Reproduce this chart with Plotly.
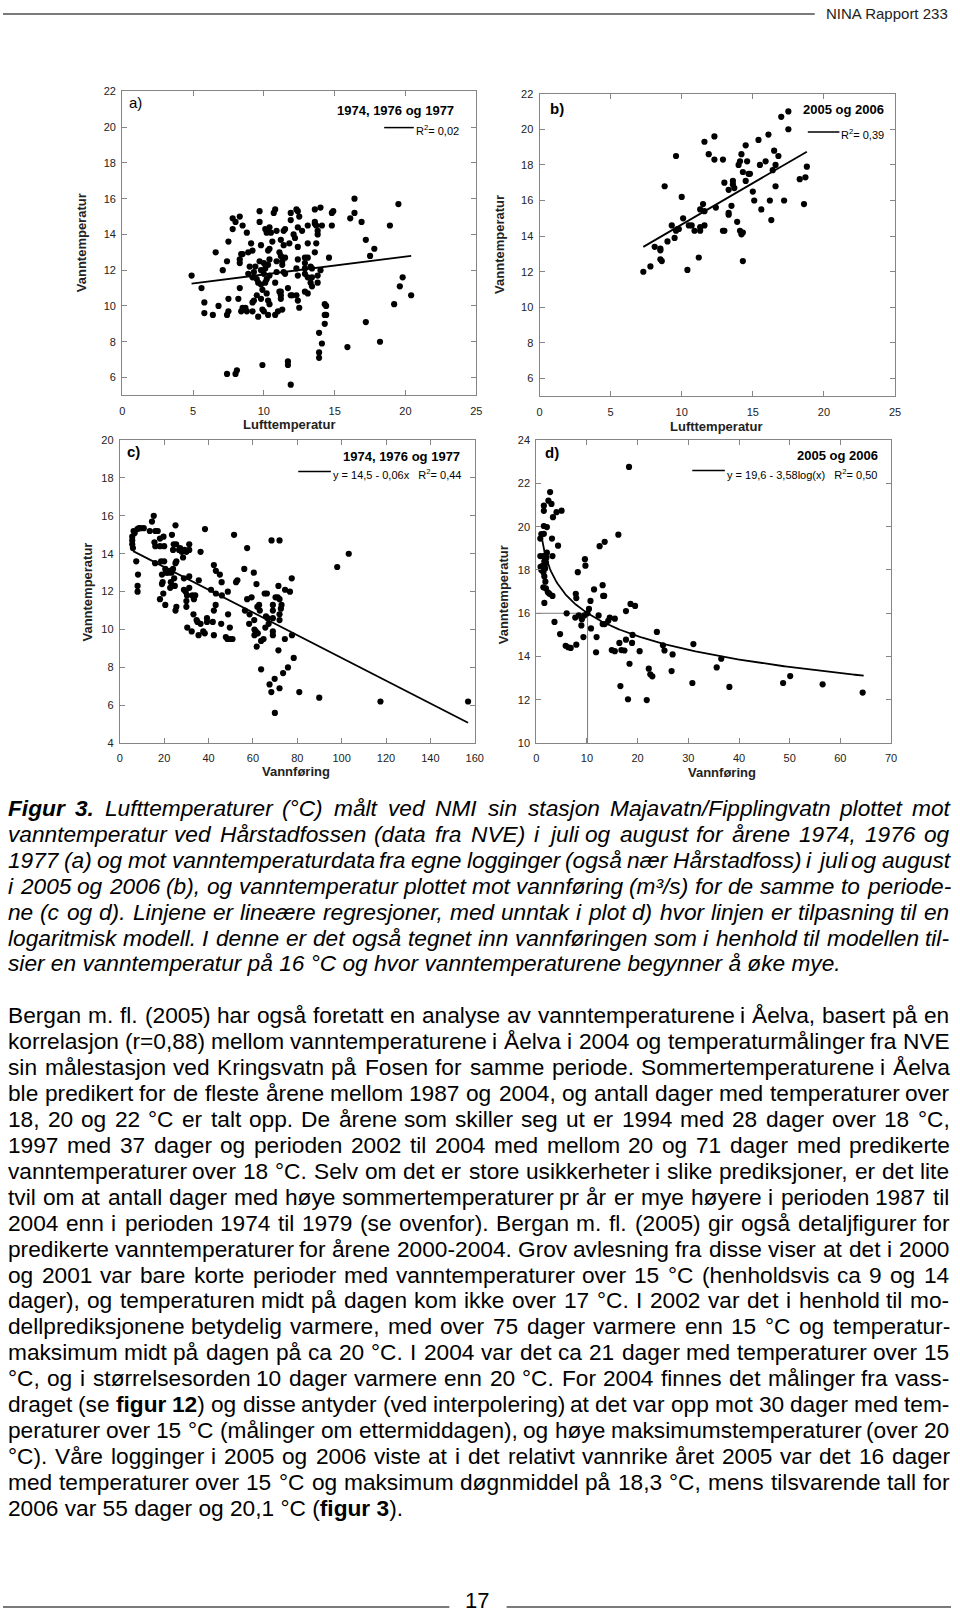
import numpy as np
import plotly.graph_objects as go

W, H = 960, 1618
FONT = "Liberation Sans, Arial, Helvetica, sans-serif"
GRAY = "#858585"

def X(p):
    return p / W

def Y(p):
    return 1 - p / H

# ---------------- data ----------------
# panel a: 1974, 1976, 1977  (Lufttemperatur vs Vanntemperatur)
a_luft = [19.5,16.4,16.1,16.4,16.9,18.9,17.2,17.8,17.5,14.6,
          19.8,19.6,20.4,19.2,17.2,18.2,15.9,11.9,11.7,11.7,
          9.9,7.4,8.0,8.1,13.9,14.1,13.9,13.9,14.3,14.3,
          14.4,14.3,14.4,4.9,5.6,5.8,5.8,6.4,6.8,6.6,
          7.1,7.4,7.5,7.5,7.5,7.4,7.8,8.0,7.8,8.3,
          8.5,8.3,8.3,8.4,8.5,8.3,8.2,8.4,8.5,8.7,
          8.8,8.8,8.9,9.0,8.9,9.1,9.2,9.2,9.3,9.4,
          9.2,9.2,9.3,9.6,9.5,9.7,9.7,9.7,9.8,9.8,
          9.5,9.6,9.8,9.8,9.9,9.9,10.0,10.0,10.0,10.1,
          10.1,10.2,10.2,10.1,10.2,10.3,10.3,10.2,10.4,10.4,
          10.4,10.4,10.3,10.4,10.3,10.5,10.6,10.7,10.8,10.9,
          11.2,11.1,11.2,10.9,10.9,10.8,10.8,11.0,11.1,11.2,
          11.2,11.3,11.3,11.4,11.4,11.5,11.4,11.5,11.5,11.3,
          11.2,11.7,11.8,11.9,11.9,11.9,12.0,12.1,12.2,12.3,
          12.3,12.4,12.5,12.4,12.4,12.4,12.3,12.4,12.4,12.5,
          12.7,12.9,12.9,13.1,12.9,13.1,12.9,13.1,13.1,13.1,
          12.9,13.3,13.4,13.4,13.6,13.6,13.6,14.0,13.7,13.8,
          13.8,13.7,13.6,13.8,13.8,14.0,14.1,14.8,14.9,14.8,13.4,13.3]
a_vann = [15.7,16.0,14.9,15.2,14.7,14.5,13.7,13.2,12.8,12.7,
          11.6,11.1,10.6,10.1,9.1,8.0,7.7,5.6,6.9,6.7,
          6.7,6.2,6.2,6.4,8.5,7.9,7.4,7.1,9.0,9.5,
          9.5,10.1,10.0,11.7,11.0,10.2,9.6,9.5,10.0,13.0,
          12.0,12.5,13.6,10.4,9.7,9.5,14.9,14.7,14.3,15.0,
          14.5,12.6,12.4,12.9,12.9,11.0,10.4,9.7,9.9,9.9,
          9.7,14.1,13.0,12.2,11.8,13.5,13.1,11.6,11.9,12.2,
          9.7,10.2,10.3,9.4,10.6,15.3,14.7,12.5,13.4,12.0,
          11.5,11.3,11.2,10.4,10.9,9.8,9.7,12.4,11.8,12.1,
          11.3,10.7,11.5,14.3,14.1,13.1,12.3,14.2,14.4,13.2,
          12.6,11.7,10.3,10.1,9.5,14.1,13.6,15.2,15.4,14.2,
          13.7,13.0,12.8,12.5,11.9,11.3,9.5,9.7,10.8,10.8,
          10.4,12.5,12.3,11.9,14.2,14.3,13.4,11.8,12.7,9.8,
          10.6,11.0,13.5,15.2,14.8,10.6,10.6,14.0,13.8,10.6,
          15.4,15.3,15.0,14.4,13.3,12.6,12.1,11.7,10.3,9.9,
          14.2,12.1,12.7,12.7,11.8,11.6,10.8,10.7,14.5,13.5,
          12.4,11.3,11.6,11.1,14.7,14.6,15.4,15.5,14.5,14.2,
          14.0,13.5,13.0,11.3,11.7,12.0,14.5,15.2,15.3,14.5,12.1,12.2]
a_fit = [10.76, 0.10]          # intercept, slope
a_fit_x = [4.9, 20.4]

# panel b: 2005 og 2006
b_luft = [7.3,7.8,8.1,8.5,8.5,8.5,8.6,8.8,9.0,9.3,
          9.5,9.6,9.6,9.7,9.8,10.0,10.1,10.4,10.5,10.7,
          10.9,11.2,11.3,11.3,11.3,11.5,11.6,11.6,11.6,11.9,
          12.3,12.3,12.4,12.9,12.9,13.0,13.0,13.3,13.3,13.3,
          13.5,13.6,13.6,13.7,13.9,14.0,14.1,14.1,14.2,14.2,
          14.3,14.3,14.3,14.5,14.5,14.6,14.7,14.8,15.0,15.1,
          15.4,15.5,15.6,15.9,16.1,16.2,16.3,16.4,16.5,16.6,
          16.6,16.8,17.0,17.2,17.5,17.5,18.3,18.6,18.7,18.8]
b_vann = [12.0,12.3,13.4,13.3,13.2,12.7,12.6,16.8,13.7,14.6,
          13.9,18.5,14.3,14.4,14.4,16.2,15.0,12.1,14.6,14.6,
          14.3,12.8,15.5,14.3,14.5,15.8,14.6,15.4,19.3,18.6,
          19.6,18.3,15.6,18.3,14.3,14.3,17.0,15.3,15.2,16.6,
          15.7,17.1,16.9,16.7,14.8,18.0,18.2,14.3,18.6,14.1,
          14.2,17.6,12.6,17.1,19.1,18.2,17.5,17.5,16.5,16.0,
          19.4,18.0,15.5,18.2,19.7,16.0,14.9,17.7,18.8,16.8,
          18.0,18.5,20.7,16.0,21.0,20.0,17.2,15.8,17.3,17.9]
b_fit = [10.0, 0.465]
b_fit_x = [7.3, 18.8]

# panel c: Vannføring vs Vanntemperatur 1974-77
c_qv = [5.6,5.6,5.6,5.9,6.2,6.7,7.9,8.6,9.4,10.8,
        7.4,8.2,8.0,8.0,13.5,14.5,15.3,16.0,17.1,15.6,
        16.0,15.9,18.1,18.1,19.7,20.0,18.6,19.0,19.0,19.3,
        18.1,19.6,20.5,20.0,20.5,20.9,21.8,22.4,22.7,23.3,
        23.0,24.0,23.5,24.3,24.0,24.5,24.8,25.1,25.1,25.5,
        25.1,25.5,25.4,26.7,27.2,27.9,28.5,29.2,30.0,28.9,
        28.9,29.7,30.0,30.3,30.0,31.3,31.3,31.3,31.3,30.4,
        32.4,32.7,33.4,34.0,33.2,34.6,35.0,35.5,35.6,36.4,
        36.4,37.6,38.3,38.4,39.3,39.3,41.1,41.9,42.4,42.4,
        43.3,42.4,43.2,43.3,45.1,45.9,45.7,46.0,47.8,48.5,
        48.7,48.8,49.6,49.9,50.8,51.5,52.4,53.0,56.1,56.4,
        57.4,57.4,58.3,58.5,59.4,60.4,60.6,60.7,60.7,61.6,
        61.3,62.2,61.7,62.0,62.8,63.1,63.7,63.7,64.8,65.6,
        65.3,66.3,65.9,66.6,67.1,67.5,68.3,68.4,69.0,69.0,
        69.0,69.0,69.0,69.8,69.9,70.2,71.2,71.5,71.5,72.0,
        72.0,72.0,72.0,72.0,72.9,72.6,73.6,74.4,74.5,75.8,
        76.7,77.5,77.6,78.4,80.9,89.9,98.0,103.2,117.5,157.0]
c_vann = [14.5,14.7,14.9,14.3,15.2,15.1,15.3,15.35,15.35,15.35,
          13.6,12.9,12.3,12.0,15.2,15.7,16.0,15.2,15.2,14.6,
          14.4,13.5,14.8,14.4,14.9,14.4,13.6,12.9,12.4,12.5,
          11.6,11.9,11.3,13.6,13.2,13.0,13.0,13.1,12.2,13.0,
          12.5,13.2,15.0,14.5,14.2,12.7,12.3,15.5,13.5,13.6,
          11.0,11.2,14.5,14.2,14.3,14.1,13.8,14.2,14.1,12.7,
          12.1,12.0,11.5,11.8,11.2,14.5,14.2,12.8,12.2,10.1,
          9.9,11.8,11.6,11.8,10.8,10.5,10.4,9.7,12.6,14.1,
          10.3,9.9,9.8,15.3,10.6,10.4,12.1,10.4,9.7,13.4,
          13.1,11.0,11.3,11.9,12.9,12.5,10.3,11.8,9.6,9.5,
          12.0,10.8,10.1,9.5,9.5,15.0,12.5,12.6,13.2,11.0,
          14.3,11.6,10.3,10.8,11.7,13.0,10.5,10.0,9.7,12.4,
          9.9,9.8,9.1,11.2,11.3,11.0,7.9,9.4,9.5,10.1,
          11.9,11.9,10.7,10.6,10.3,7.1,6.7,14.7,11.3,11.0,
          10.6,9.9,9.7,7.4,5.6,11.7,11.7,12.3,8.9,6.9,
          14.7,11.6,10.8,10.5,11.3,11.1,7.7,9.5,12.1,8.0,
          12.0,12.7,9.7,8.5,6.7,6.4,13.3,14.0,6.2,6.2]
c_fit = [14.5, -0.06]
c_fit_x = [6.0, 157.0]

# panel d: Vannføring vs Vanntemperatur 2005-06
d_qv = [18.3,2.73,2.4,3.0,1.5,5.0,4.0,1.5,3.3,1.5,
        2.1,1.5,1.0,0.8,3.1,4.3,16.2,12.5,13.5,0.8,
        1.4,2.1,3.2,2.0,1.6,0.85,1.3,1.7,1.9,1.0,
        1.4,1.75,1.6,1.8,1.4,1.9,2.3,2.6,1.6,3.2,
        9.6,9.7,8.2,7.8,7.9,3.6,6.0,4.7,5.8,6.3,
        6.8,7.9,7.7,8.4,9.0,8.9,9.3,9.5,10.1,10.4,
        10.7,10.8,11.4,11.9,11.8,12.3,13.1,13.2,13.4,13.1,
        13.5,14.2,14.5,15.5,14.9,15.5,16.4,16.6,16.8,17.4,
        17.7,17.7,18.1,18.4,18.6,18.9,19.0,19.5,20.4,21.8,
        22.2,22.5,22.9,23.8,25.0,25.3,26.7,26.9,30.8,31.0,
        35.6,36.5,38.1,48.7,50.1,56.5,64.4]
d_vann = [22.76,21.6,21.2,21.05,20.97,20.74,20.67,20.73,20.44,20.03,
          19.98,19.67,19.66,19.45,19.45,19.12,19.63,19.1,19.3,18.64,
          18.64,18.8,18.64,18.57,18.4,18.15,18.2,18.25,18.35,18.0,
          17.9,18.07,17.7,17.46,17.2,17.15,16.97,16.9,16.48,16.8,
          18.5,18.2,17.9,16.9,16.7,15.6,16.0,15.04,14.5,14.43,
          14.4,14.55,15.8,15.9,15.73,15.44,14.9,15.9,16.0,16.2,
          16.57,15.3,17.1,14.9,14.2,15.9,17.3,16.8,16.8,15.5,
          15.5,15.65,15.8,15.75,14.3,14.25,14.63,12.64,14.3,14.28,
          14.78,16.1,12.03,13.67,16.43,14.63,15.0,16.34,14.25,11.99,
          13.44,13.18,13.09,15.14,14.52,14.28,13.33,14.1,12.78,14.58,
          13.5,13.9,12.6,12.78,13.1,12.72,12.34]
d_fit = [19.6, -3.58]          # y = a + b*log10(x)
d_fit_x = [1.0, 64.6]
d_ref_temp = 16

# ticks
a_xticks = [0, 5, 10, 15, 20, 25]
a_yticks = [6, 8, 10, 12, 14, 16, 18, 20, 22]
c_xticks = [0, 20, 40, 60, 80, 100, 120, 140, 160]
c_yticks = [4, 6, 8, 10, 12, 14, 16, 18, 20]
d_xticks = [0, 10, 20, 30, 40, 50, 60, 70]
d_yticks = [10, 12, 14, 16, 18, 20, 22, 24]

# text
caption_lines = [
    "<b>Figur</b> <b>3.</b> Lufttemperaturer (°C) målt ved NMI sin stasjon Majavatn/Fipplingvatn plottet mot",
    "vanntemperatur ved Hårstadfossen (data fra NVE) i juli og august for årene 1974, 1976 og",
    "1977 (a) og mot vanntemperaturdata fra egne logginger (også nær Hårstadfoss) i juli og august",
    "i 2005 og 2006 (b), og vanntemperatur plottet mot vannføring (m³/s) for de samme to periode-",
    "ne (c og d). Linjene er lineære regresjoner, med unntak i plot d) hvor linjen er tilpasning til en",
    "logaritmisk modell. I denne er det også tegnet inn vannføringen som i henhold til modellen til-",
    "sier en vanntemperatur på 16 °C og hvor vanntemperaturene begynner å øke mye.",
]
body_lines = [
    "Bergan m. fl. (2005) har også foretatt en analyse av vanntemperaturene i Åelva, basert på en",
    "korrelasjon (r=0,88) mellom vanntemperaturene i Åelva i 2004 og temperaturmålinger fra NVE",
    "sin målestasjon ved Kringsvatn på Fosen for samme periode. Sommertemperaturene i Åelva",
    "ble predikert for de fleste årene mellom 1987 og 2004, og antall dager med temperaturer over",
    "18, 20 og 22 °C er talt opp. De årene som skiller seg ut er 1994 med 28 dager over 18 °C,",
    "1997 med 37 dager og perioden 2002 til 2004 med mellom 20 og 71 dager med predikerte",
    "vanntemperaturer over 18 °C. Selv om det er store usikkerheter i slike prediksjoner, er det lite",
    "tvil om at antall dager med høye sommertemperaturer pr år er mye høyere i perioden 1987 til",
    "2004 enn i perioden 1974 til 1979 (se ovenfor). Bergan m. fl. (2005) gir også detaljfigurer for",
    "predikerte vanntemperaturer for årene 2000-2004. Grov avlesning fra disse viser at det i 2000",
    "og 2001 var bare korte perioder med vanntemperaturer over 15 °C (henholdsvis ca 9 og 14",
    "dager), og temperaturen midt på dagen kom ikke over 17 °C. I 2002 var det i henhold til mo-",
    "dellprediksjonene betydelig varmere, med over 75 dager varmere enn 15 °C og temperatur-",
    "maksimum midt på dagen på ca 20 °C. I 2004 var det ca 21 dager med temperaturer over 15",
    "°C, og i størrelsesorden 10 dager varmere enn 20 °C. For 2004 finnes det målinger fra vass-",
    "draget (se <b>figur</b> <b>12</b>) og disse antyder (ved interpolering) at det var opp mot 30 dager med tem-",
    "peraturer over 15 °C (målinger om ettermiddagen), og høye maksimumstemperaturer (over 20",
    "°C). Våre logginger i 2005 og 2006 viste at i det relativt vannrike året 2005 var det 16 dager",
    "med temperaturer over 15 °C og maksimum døgnmiddel på 18,3 °C, mens tilsvarende tall for",
    "2006 var 55 dager og 20,1 °C (<b>figur</b> <b>3</b>).",
]

# ---------------- figure ----------------
fig = go.Figure()

panels = [
    dict(x=a_luft, y=a_vann, fit=a_fit, fx=a_fit_x, kind="lin",
         xd=(120.7, 479.3), yd=(86, 392.3), xr=[0, 25], yr=[5, 22], xt=a_xticks, yt=a_yticks),
    dict(x=b_luft, y=b_vann, fit=b_fit, fx=b_fit_x, kind="lin",
         xd=(543.3, 903.3), yd=(88.3, 393.3), xr=[0, 25], yr=[5, 22], xt=a_xticks, yt=a_yticks),
    dict(x=c_qv, y=c_vann, fit=c_fit, fx=c_fit_x, kind="lin",
         xd=(118.3, 477.7), yd=(437.3, 742.7), xr=[0, 160], yr=[4, 20], xt=c_xticks, yt=c_yticks),
    dict(x=d_qv, y=d_vann, fit=d_fit, fx=d_fit_x, kind="log",
         xd=(540, 899.3), yd=(437.3, 742.7), xr=[0, 70], yr=[10, 24], xt=d_xticks, yt=d_yticks),
]

tickfont = dict(family=FONT, size=11, color="#222")
for i, p in enumerate(panels, start=1):
    sx = "" if i == 1 else str(i)
    xa, ya = "x" + sx, "y" + sx
    if p["kind"] == "log":
        # reference lines: flow giving 16 degrees
        q16 = 10 ** ((p["fit"][0] - d_ref_temp) / (-p["fit"][1]))
        fig.add_trace(go.Scatter(x=[0, q16, q16], y=[d_ref_temp, d_ref_temp, p["yr"][0]],
                                 mode="lines", line=dict(color="#7a7a7a", width=1),
                                 xaxis=xa, yaxis=ya, hoverinfo="skip"))
    fig.add_trace(go.Scatter(x=p["x"], y=p["y"], mode="markers",
                             marker=dict(color="black", size=6.2, line=dict(width=0)),
                             xaxis=xa, yaxis=ya))
    if p["kind"] == "lin":
        fx = np.linspace(p["fx"][0], p["fx"][1], 2)
        fy = p["fit"][0] + p["fit"][1] * fx
    else:
        fx = np.linspace(p["fx"][0], p["fx"][1], 300)
        fy = p["fit"][0] + p["fit"][1] * np.log10(fx)
    fig.add_trace(go.Scatter(x=fx, y=fy, mode="lines", line=dict(color="black", width=1.8),
                             xaxis=xa, yaxis=ya, hoverinfo="skip"))
    common = dict(showline=True, linecolor=GRAY, linewidth=1, mirror="ticks", ticks="inside",
                  ticklen=5, tickwidth=1, tickcolor=GRAY, showgrid=False, zeroline=False,
                  tickfont=tickfont, tickmode="array")
    fig.layout["xaxis" + sx] = dict(common, domain=[X(p["xd"][0]), X(p["xd"][1])], range=p["xr"],
                                    tickvals=p["xt"], anchor=ya, ticklabelstandoff=5)
    fig.layout["yaxis" + sx] = dict(common, domain=[Y(p["yd"][1]), Y(p["yd"][0])], range=p["yr"],
                                    tickvals=p["yt"], anchor=xa, ticklabelstandoff=3)

ann = []
shapes = []

def add_text(text, x, y, size, xanchor="left", yanchor="middle", angle=0, color="#000"):
    ann.append(dict(text=text, x=X(x), y=Y(y), xref="paper", yref="paper", showarrow=False,
                    xanchor=xanchor, yanchor=yanchor, textangle=angle, borderpad=0,
                    font=dict(family=FONT, size=size, color=color)))

def add_line(x0, x1, y, color="black", width=1.5):
    shapes.append(dict(type="line", xref="paper", yref="paper", x0=X(x0), x1=X(x1), y0=Y(y), y1=Y(y),
                       line=dict(color=color, width=width)))

# axis titles
for (xx, yy) in [(79, 239), (503, 240), (86, 590), (507, 593)]:
    add_text("<b>Vanntemperatur</b>", xx, yy, 13, xanchor="center", angle=-90, color="#222")
add_text("<b>Lufttemperatur</b>", 290, 422, 13, xanchor="center", color="#222")
add_text("<b>Lufttemperatur</b>", 722, 424, 13, xanchor="center", color="#222")
add_text("<b>Vannføring</b>", 297, 771, 13, xanchor="center", color="#222")
add_text("<b>Vannføring</b>", 728, 772, 13, xanchor="center", color="#222")

# panel labels, titles, legends
add_text("a)", 127, 97, 15)
add_text("<b>b)</b>", 553, 103, 15)
add_text("<b>c)</b>", 125, 449, 15)
add_text("<b>d)</b>", 548, 450, 15)
add_text("<b>1974, 1976 og 1977</b>", 458, 105, 13, xanchor="right")
add_text("<b>2005 og 2006</b>", 893, 104, 13, xanchor="right")
add_text("<b>1974, 1976 og 1977</b>", 464, 454, 13, xanchor="right")
add_text("<b>2005 og 2006</b>", 887, 453, 13, xanchor="right")
add_line(386, 416, 122.5)
add_text("R<sup>2</sup>= 0,02", 417, 124.5, 11)
add_line(815, 847, 127)
add_text("R<sup>2</sup>= 0,39", 848, 129, 11)
add_line(299, 332, 469)
add_text("y = 14,5 - 0,06x\u00a0\u00a0\u00a0R<sup>2</sup>= 0,44", 333, 472, 11)
add_line(698, 731, 468)
add_text("y = 19,6 - 3,58log(x)\u00a0\u00a0\u00a0R<sup>2</sup>= 0,50", 732, 472, 11)

# header / footer
add_line(0, 822, 8, color="#7a7a7a", width=2)
add_text("NINA Rapport 233", 958, 8, 15, xanchor="right", color="#222")
add_line(0, 452, 1613, color="#7a7a7a", width=2)
add_line(510, 960, 1613, color="#7a7a7a", width=2)
add_text("17", 480, 1606, 22, xanchor="center")

# ---- justified text ----
AR = {" ": 278, "(": 333, ")": 333, ",": 278, "-": 333, ".": 278, "/": 278, "=": 584,
      "°": 400, "³": 333, ":": 278}
for dch in "0123456789":
    AR[dch] = 556
AR.update(dict(A=667, B=667, C=722, D=722, E=667, F=611, G=778, H=722, I=278, J=500, K=667,
               L=556, M=833, N=722, O=778, P=667, Q=778, R=722, S=667, T=611, U=722, V=667,
               W=944, X=667, Y=667, Z=611))
AR.update(dict(a=556, b=556, c=500, d=556, e=556, f=278, g=556, h=556, i=222, j=222, k=500,
               l=222, m=833, n=556, o=556, p=556, q=556, r=333, s=500, t=278, u=556, v=500,
               w=722, x=500, y=500, z=500))
AR.update({"å": 556, "æ": 889, "ø": 611, "Å": 667, "Ø": 778})
AB = dict(AR)
AB.update(dict(a=556, b=611, c=556, d=611, e=556, f=333, g=611, h=611, i=278, j=278, k=556,
               l=278, m=889, n=611, o=611, p=611, q=611, r=389, s=556, t=333, u=611, v=556,
               w=778, x=556, y=556, z=500, F=611))

def tw(s, size):
    w, bold, i = 0, False, 0
    while i < len(s):
        if s.startswith("<b>", i):
            bold = True; i += 3; continue
        if s.startswith("</b>", i):
            bold = False; i += 4; continue
        w += (AB if bold else AR).get(s[i], 556)
        i += 1
    return w * size / 1000.0

FS = 22.7
LM, RM = 4, 957

def place_paragraph(lines, y0, step, italic):
    for k, line in enumerate(lines):
        y = y0 + k * step
        wrap = (lambda t: "<i>" + t + "</i>") if italic else (lambda t: t)
        if k == len(lines) - 1:
            add_text(wrap(line), LM, y, FS)
            continue
        words = line.split(" ")
        widths = [tw(w_, FS) for w_ in words]
        gap = (RM - LM - sum(widths)) / (len(words) - 1)
        x = LM
        for w_, wd in zip(words, widths):
            add_text(wrap(w_), x, y, FS)
            x += wd + gap

place_paragraph(caption_lines, 808, 26.1, True)
place_paragraph(body_lines, 1016.5, 26.15, False)

fig.update_layout(width=W, height=H, margin=dict(l=0, r=0, t=0, b=0),
                  paper_bgcolor="white", plot_bgcolor="white", showlegend=False,
                  font=dict(family=FONT), annotations=ann, shapes=shapes)

fig.write_html("out.html")
